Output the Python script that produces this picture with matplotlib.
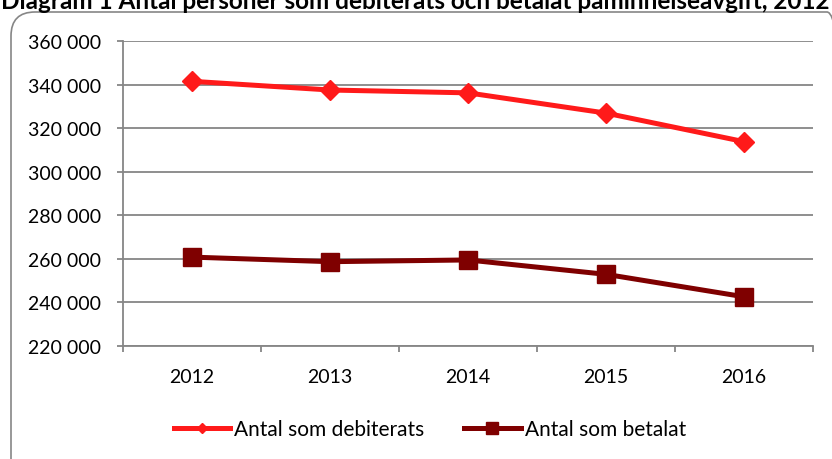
import matplotlib
matplotlib.use("Agg")
import matplotlib.pyplot as plt
from matplotlib.lines import Line2D
from matplotlib.patches import FancyBboxPatch
from matplotlib.ticker import FuncFormatter, FixedLocator
from matplotlib.transforms import IdentityTransform

plt.rcParams['font.family'] = ['Lato', 'DejaVu Sans']

# data
years = ["2012", "2013", "2014", "2015", "2016"]
debiterats = [341500, 337500, 336200, 326900, 313800]
betalat = [260800, 258700, 259500, 252900, 242600]
title = "Diagram 1 Antal personer som debiterats och betalat påminnelseavgift, 2012"

red = "#ff1a1a"
maroon = "#7f0000"
grey = "#868686"

fig = plt.figure(figsize=(8.32, 4.6), dpi=100)
ax = fig.add_axes([123 / 832, 1 - 347 / 460, 690 / 832, 305 / 460])

x = list(range(len(years)))
ax.plot(x, debiterats, color=red, lw=3.6, marker="D", ms=10, zorder=3)
ax.plot(x, betalat, color=maroon, lw=3.6, marker="s", ms=13.5, zorder=3)

ax.set_xlim(-0.5, len(years) - 0.5)
ax.set_ylim(220000, 360000)
ax.set_yticks(range(220000, 360001, 20000))
ax.yaxis.set_major_formatter(FuncFormatter(lambda v, p: f"{int(v):,}".replace(",", " ")))
ax.grid(axis="y", color=grey, lw=1.3)
ax.set_axisbelow(True)

ax.set_xticks(x)
ax.set_xticklabels(years)
ax.xaxis.set_minor_locator(FixedLocator([i - 0.5 for i in range(len(years) + 1)]))
ax.tick_params(axis="x", which="major", length=0, pad=16, labelsize=14)
ax.tick_params(axis="x", which="minor", length=4.5, width=1.3, color=grey, direction="out")
ax.tick_params(axis="y", length=4.5, width=1.3, color=grey, pad=11, labelsize=14)

for s in ["top", "right"]:
    ax.spines[s].set_visible(False)
for s in ["left", "bottom"]:
    ax.spines[s].set_color(grey)
    ax.spines[s].set_linewidth(1.3)

# legend, markers drawn smaller than in the plot like the original
handles = [
    Line2D([], [], color=red, lw=3.6, marker="D", ms=5),
    Line2D([], [], color=maroon, lw=3.6, marker="s", ms=8),
]
fig.legend(handles, ["Antal som debiterats", "Antal som betalat"],
           loc="center", bbox_to_anchor=(430 / 832, 1 - 430 / 460), ncol=2,
           frameon=False, fontsize=15, handlelength=2.7, handletextpad=0.2,
           columnspacing=1.9)

# rounded chart border, partly outside the image
box = FancyBboxPatch((11, -30), 840, 460 - 13 + 30,
                     boxstyle="round,pad=0,rounding_size=24",
                     transform=IdentityTransform(), fc="none", ec=grey, lw=1.2)
fig.patches.append(box)

# title, cut at the top edge as in the original
fig.text(415 / 832, 1 - 9 / 460, title, ha="center", va="baseline",
         fontsize=17.5, fontweight="bold")

fig.savefig("out.png", dpi=100)
